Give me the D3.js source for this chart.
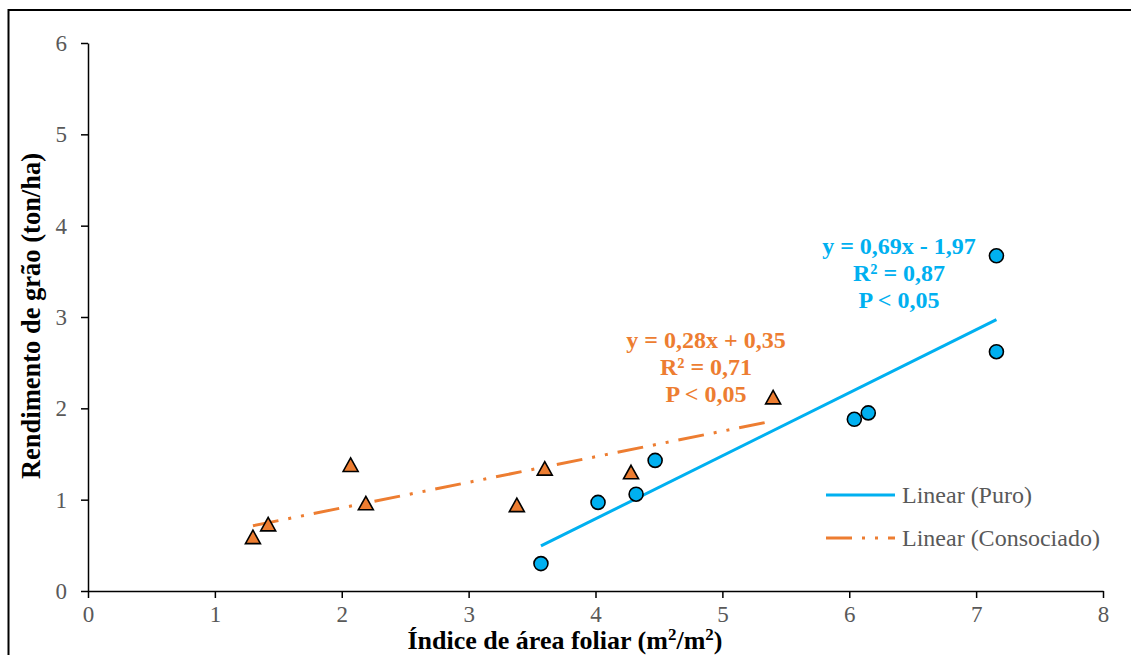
<!DOCTYPE html>
<html>
<head>
<meta charset="utf-8">
<script src="https://cdn.jsdelivr.net/npm/d3@7"></script>
<style>
  html, body { margin: 0; padding: 0; background: #fff; }
  svg { display: block; }
  text { font-family: "Liberation Serif", "Times New Roman", serif; }
</style>
</head>
<body>
<svg id="chart" width="1131" height="655"></svg>
<script>
// Leaf area index (x) vs grain yield (y), sole crop ("Puro") and intercrop ("Consociado")
const puroX = [3.57, 4.02, 4.32, 4.47, 6.04, 6.15, 7.16, 7.16];
const puroY = [0.30, 0.97, 1.06, 1.43, 1.88, 1.95, 2.62, 3.67];

const consX = [1.30, 1.42, 2.07, 2.19, 3.38, 3.60, 4.28, 5.40];
const consY = [0.59, 0.73, 1.38, 0.96, 0.94, 1.34, 1.30, 2.12];

// Fitted linear trends (slope, intercept) as printed on the chart
const puroFit = { slope: 0.69, intercept: -1.97 };
const consFit = { slope: 0.28, intercept: 0.35 };

const xTicks = [0, 1, 2, 3, 4, 5, 6, 7, 8];
const yTicks = [0, 1, 2, 3, 4, 5, 6];

const puroLabel = ["y = 0,69x - 1,97", "R² = 0,87", "P < 0,05"];
const consLabel = ["y = 0,28x + 0,35", "R² = 0,71", "P < 0,05"];
const legendLabels = ["Linear (Puro)", "Linear (Consociado)"];

const BLUE = "#00B0F0";
const ORANGE = "#ED7D31";
const GREY = "#595959";
const DASH = "26,10,3,10,3,10";

const svg = d3.select("#chart");

// Outer chart frame (left and top edges visible)
svg.append("path")
  .attr("d", "M8.5,655 L8.5,10 L1131,10")
  .attr("fill", "none").attr("stroke", "#000").attr("stroke-width", 2);

const x = d3.scaleLinear().domain([0, 8]).range([88, 1103]);
const y = d3.scaleLinear().domain([0, 6]).range([591, 43]);

// Axes
const yAxis = svg.append("g")
  .attr("transform", `translate(${x(0)},0)`)
  .call(d3.axisLeft(y).tickValues(yTicks).tickSize(7).tickSizeOuter(0).tickPadding(14).tickFormat(d3.format("d")));
const xAxis = svg.append("g")
  .attr("transform", `translate(0,${y(0)})`)
  .call(d3.axisBottom(x).tickValues(xTicks).tickSize(7).tickSizeOuter(0).tickPadding(8).tickFormat(d3.format("d")));

[xAxis, yAxis].forEach(g => {
  g.select(".domain").attr("stroke", "#000").attr("stroke-width", 1.5);
  g.selectAll(".tick line").attr("stroke", "#000").attr("stroke-width", 1.5);
  g.selectAll(".tick text")
    .attr("fill", GREY)
    .style("font-family", '"Liberation Serif", serif')
    .style("font-size", "23px");
});

// Axis titles
svg.append("text")
  .attr("transform", `translate(40,316) rotate(-90)`)
  .attr("text-anchor", "middle")
  .style("font-size", "26.5px").style("font-weight", "bold")
  .attr("fill", "#000")
  .text("Rendimento de grão (ton/ha)");

const xt = svg.append("text")
  .attr("x", 565).attr("y", 649)
  .attr("text-anchor", "middle")
  .style("font-size", "26px").style("font-weight", "bold")
  .attr("fill", "#000");
xt.append("tspan").text("Índice de área foliar (m");
xt.append("tspan").attr("dy", -9).style("font-size", "17px").text("2");
xt.append("tspan").attr("dy", 9).text("/m");
xt.append("tspan").attr("dy", -9).style("font-size", "17px").text("2");
xt.append("tspan").attr("dy", 9).text(")");

// Trend lines across each series' observed x-range
function fitLine(xs, fit) {
  const x0 = d3.min(xs), x1 = d3.max(xs);
  return [[x0, fit.slope * x0 + fit.intercept], [x1, fit.slope * x1 + fit.intercept]];
}
const line = d3.line().x(d => x(d[0])).y(d => y(d[1]));

svg.append("path")
  .attr("d", line(fitLine(puroX, puroFit)))
  .attr("fill", "none").attr("stroke", BLUE).attr("stroke-width", 3);

svg.append("path")
  .attr("d", line(fitLine(consX, consFit)))
  .attr("fill", "none").attr("stroke", ORANGE).attr("stroke-width", 3)
  .attr("stroke-dasharray", DASH);

// Markers: triangles for intercrop, circles for sole crop
const tri = "M0,-7 L7.5,6.5 L-7.5,6.5 Z";
svg.append("g").selectAll("path")
  .data(consX.map((v, i) => [v, consY[i]]))
  .join("path")
  .attr("d", tri)
  .attr("transform", d => `translate(${x(d[0])},${y(d[1])})`)
  .attr("fill", ORANGE).attr("stroke", "#000").attr("stroke-width", 1.6)
  .attr("stroke-linejoin", "miter");

svg.append("g").selectAll("circle")
  .data(puroX.map((v, i) => [v, puroY[i]]))
  .join("circle")
  .attr("cx", d => x(d[0])).attr("cy", d => y(d[1]))
  .attr("r", 7)
  .attr("fill", BLUE).attr("stroke", "#000").attr("stroke-width", 1.6);

// Regression annotations
function annotate(lines, cx, baseline, color) {
  const t = svg.append("text")
    .attr("text-anchor", "middle")
    .style("font-size", "24px").style("font-weight", "bold")
    .attr("fill", color);
  lines.forEach((s, i) => {
    t.append("tspan").attr("x", cx).attr("y", baseline + i * 27).text(s);
  });
}
annotate(puroLabel, 899, 254, BLUE);
annotate(consLabel, 706, 348, ORANGE);

// Legend
const legend = svg.append("g");
const legendRows = [
  { label: legendLabels[0], color: BLUE, dash: null, y: 495 },
  { label: legendLabels[1], color: ORANGE, dash: DASH, y: 538 }
];
legendRows.forEach(r => {
  legend.append("line")
    .attr("x1", 826).attr("x2", 895).attr("y1", r.y).attr("y2", r.y)
    .attr("stroke", r.color).attr("stroke-width", 3)
    .attr("stroke-dasharray", r.dash);
  legend.append("text")
    .attr("x", 902).attr("y", r.y).attr("dy", "0.35em")
    .style("font-size", "24px").attr("fill", GREY)
    .text(r.label);
});
</script>
</body>
</html>
